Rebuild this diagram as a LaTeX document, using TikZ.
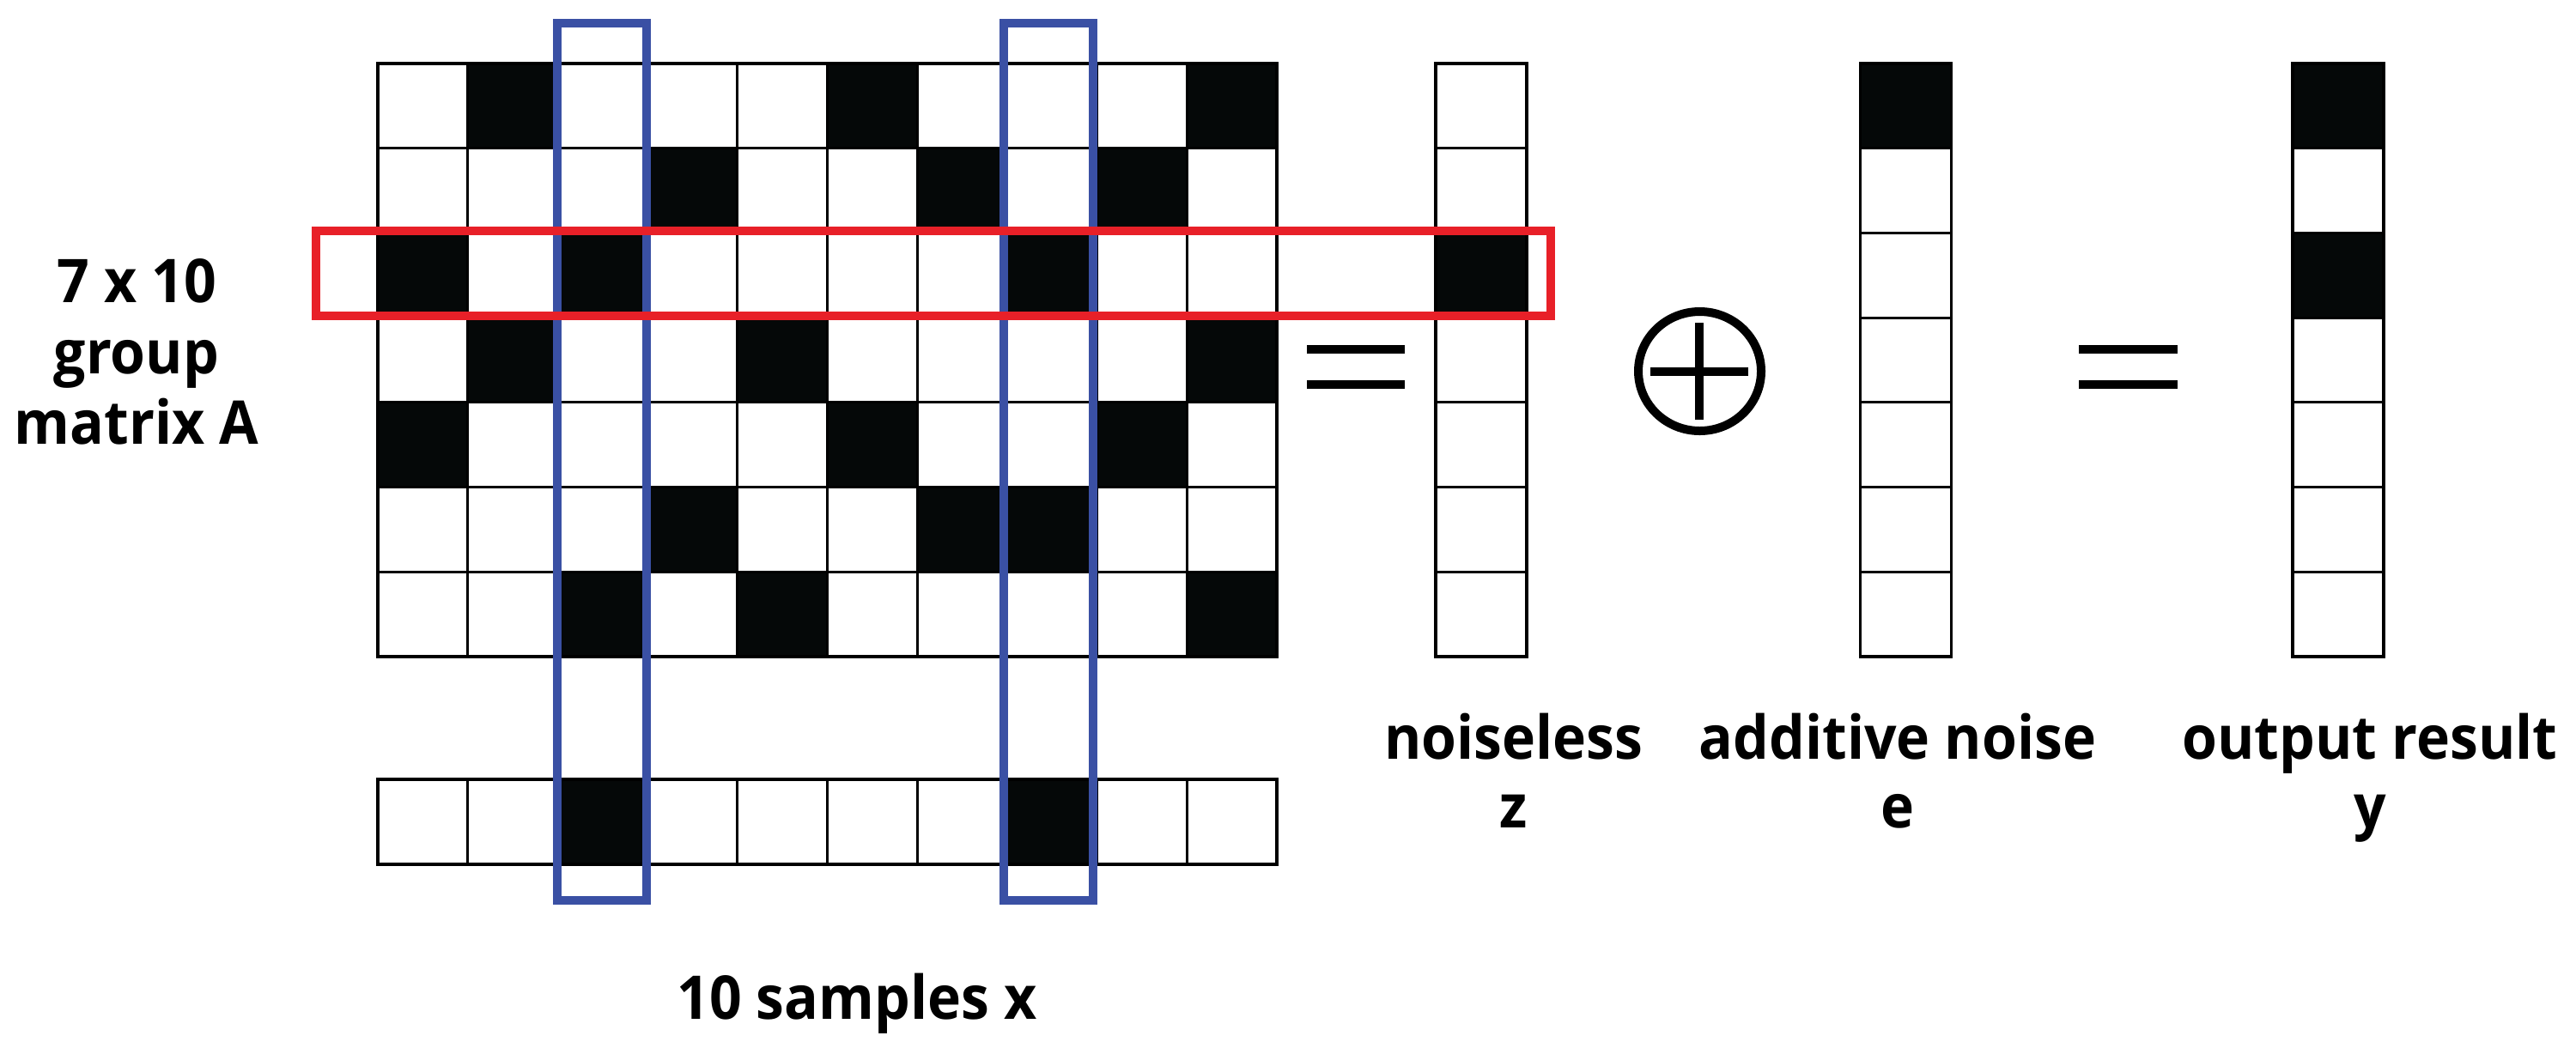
\documentclass[tikz,border=0pt]{standalone}
\usepackage{fontspec}
\setmainfont{Open Sans}
\usetikzlibrary{positioning}

\definecolor{selblue}{RGB}{58,80,164}
\definecolor{selred}{RGB}{232,32,40}
\definecolor{onblack}{RGB}{5,8,8}

\begin{document}
\begin{tikzpicture}[cell/.style={draw,line width=0.9pt,minimum width=1.047cm,minimum height=0.987cm,inner sep=0pt,outer sep=0pt}, colbox/.style={draw=selblue,line width=0.1cm}, rowbox/.style={draw=selred,line width=0.1cm}, sym/.style={line width=0.1cm}, lab/.style={font=\bfseries\fontsize{20}{23}\selectfont,anchor=base,inner sep=0pt,xscale=0.94,transform shape}]

	\useasboundingbox (0,0) rectangle (30,-12.2);

	% group matrix A
	\foreach \r/\row in {0/{0,1,0,0,0,1,0,0,0,1}, 1/{0,0,0,1,0,0,1,0,1,0}, 2/{1,0,1,0,0,0,0,1,0,0}, 3/{0,1,0,0,1,0,0,0,0,1}, 4/{1,0,0,0,0,1,0,0,1,0}, 5/{0,0,0,1,0,0,1,1,0,0}, 6/{0,0,1,0,1,0,0,0,0,1}}{
		\foreach \v [count=\c from 0] in \row {
			\ifnum\v=1 \def\cc{onblack}\else\def\cc{white}\fi
			\node[cell,fill=\cc] (A-\r-\c) at ({4.40+(\c+0.5)*1.047},{-0.74-(\r+0.5)*0.987}) {};
		}
	}

	% samples x
	\foreach \v [count=\c from 0] in {0,0,1,0,0,0,0,1,0,0}{
		\ifnum\v=1 \def\cc{onblack}\else\def\cc{white}\fi
		\node[cell,fill=\cc,minimum height=0.99cm] (x-\c) at ({4.40+(\c+0.5)*1.047},-9.575) {};
	}

	% z, e and y columns
	\foreach \n/\xc/\col in {z/17.25/{0,0,1,0,0,0,0}, e/22.195/{1,0,0,0,0,0,0}, y/27.23/{1,0,1,0,0,0,0}}{
		\foreach \v [count=\r from 0] in \col {
			\ifnum\v=1 \def\cc{onblack}\else\def\cc{white}\fi
			\node[cell,fill=\cc,minimum width=1.06cm] (\n-\r) at (\xc,{-0.74-(\r+0.5)*0.987}) {};
		}
	}

	\draw[colbox] (6.485,-0.27) rectangle (7.53,-10.49);
	\draw[colbox] (11.69,-0.27) rectangle (12.73,-10.49);
	\draw[rowbox] (3.68,-2.69) rectangle (18.06,-3.68);

	\draw[sym] (15.22,-4.067) -- (16.36,-4.067) (15.22,-4.483) -- (16.36,-4.483);
	\draw[sym] (24.21,-4.067) -- (25.36,-4.067) (24.21,-4.483) -- (25.36,-4.483);
	\draw[sym] (19.795,-4.325) ellipse (0.715 and 0.695);
	\draw[sym] (19.22,-4.333) -- (20.36,-4.333) (19.79,-3.76) -- (19.79,-4.89);

	\node[lab] (dim) at (1.59,-3.52) {7 x 10};
	\node[lab] (grp) at (1.59,-4.35) {group};
	\node[lab] (mat) at (1.59,-5.17) {matrix A};
	\node[lab] (xlab) at (9.98,-11.87) {10 samples x};
	\node[lab] (zlab) at (17.63,-8.84) {noiseless};
	\node[lab] (zsym) at (17.63,-9.64) {z};
	\node[lab] (elab) at (22.10,-8.84) {additive noise};
	\node[lab] (esym) at (22.10,-9.64) {e};
	\node[lab] (ylab) at (27.60,-8.84) {output result};
	\node[lab] (ysym) at (27.60,-9.64) {y};
\end{tikzpicture}
\end{document}
